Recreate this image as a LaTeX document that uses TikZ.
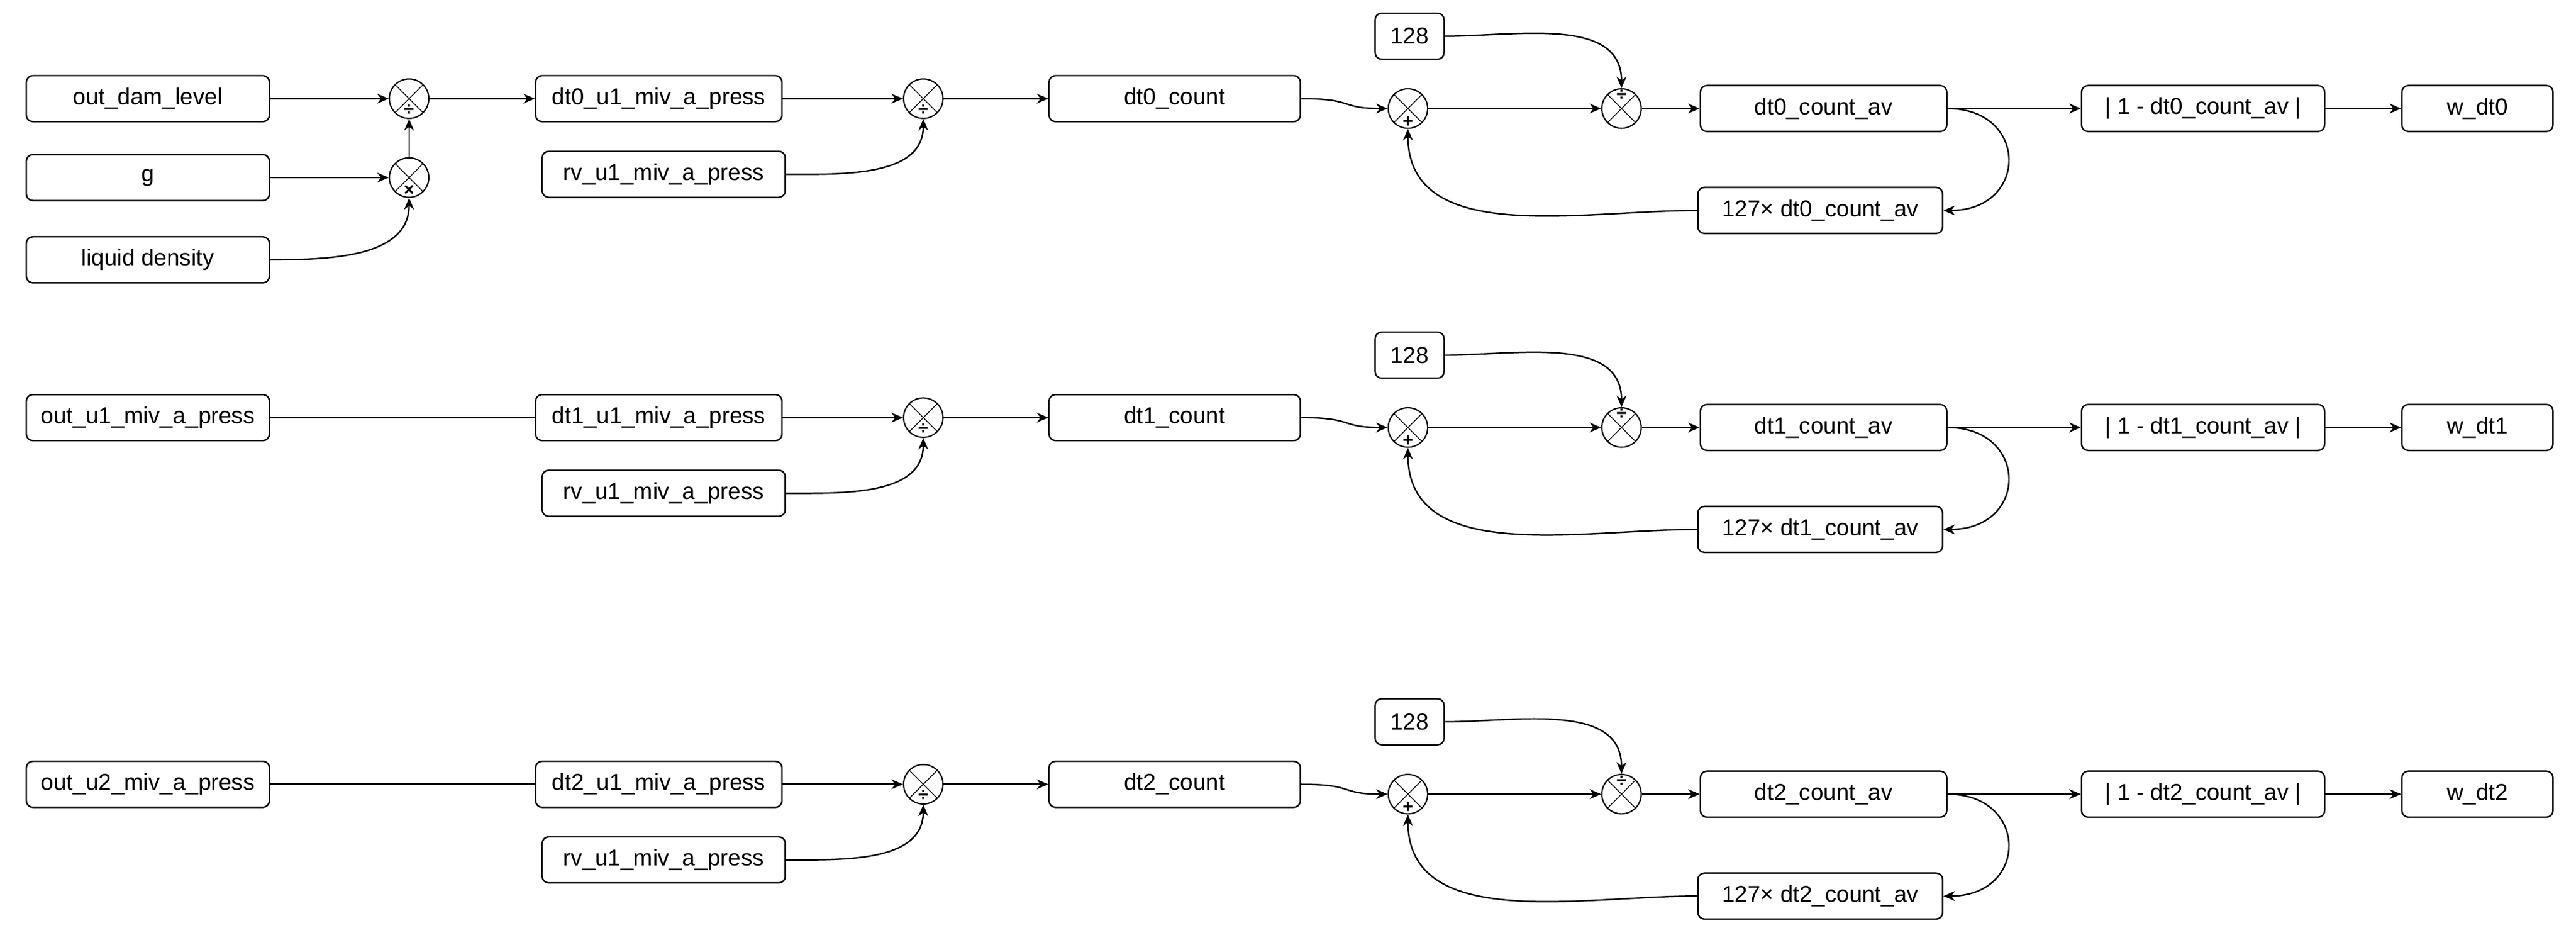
\documentclass[tikz,border=0pt]{standalone}
\usepackage{fontspec}
\setmainfont{Liberation Sans}
\usetikzlibrary{arrows.meta}
\begin{document}
\begin{tikzpicture}[x=1pt,y=-1pt,
  box/.style={draw,rounded corners=4pt,line width=0.9pt,minimum height=28pt,inner sep=0pt,font=\fontsize{14}{16}\selectfont},
  op/.style={draw,circle,minimum size=24pt,inner sep=0pt,line width=0.8pt,
    path picture={\draw[line width=0.5pt] (path picture bounding box.north west)--(path picture bounding box.south east)
      (path picture bounding box.north east)--(path picture bounding box.south west);}},
  arr/.style={-{Stealth[length=7pt,width=6pt]},line width=0.9pt},
  sgn/.style={font=\fontsize{11}{11}\selectfont\bfseries,inner sep=0pt}]
\useasboundingbox (0,0) rectangle (1568,571.4);
% row 0 inputs
\node[box,minimum width=148pt] (odl) at (90,60) {out\_dam\_level};
\node[box,minimum width=148pt] (g) at (90,108) {g};
\node[box,minimum width=148pt] (ld) at (90,158) {liquid density};
\node[op] (A) at (249,60) {}; \node[sgn] at (249,67) {÷};
\node[op] (B) at (249,108) {}; \node[sgn] at (249,116) {×};
\draw[arr] (odl) -- (A);
\draw[arr] (g) -- (B);
\draw[arr] (ld.east) to[out=0,in=-90] (B.south);
\draw[arr] (B) -- (A);
\node[box,minimum width=150pt] (p0) at (401,60) {dt0\_u1\_miv\_a\_press};
\draw[arr] (A) -- (p0);
% rows 1,2 inputs
\node[box,minimum width=148pt] (o1) at (90,254) {out\_u1\_miv\_a\_press};
\node[box,minimum width=150pt] (p1) at (401,254) {dt1\_u1\_miv\_a\_press};
\draw[line width=0.9pt] (o1) -- (p1);
\node[box,minimum width=148pt] (o2) at (90,477) {out\_u2\_miv\_a\_press};
\node[box,minimum width=150pt] (p2) at (401,477) {dt2\_u1\_miv\_a\_press};
\draw[line width=0.9pt] (o2) -- (p2);
\foreach \i/\d in {0/0,1/194,2/417}{
  \node[op] (C\i) at (562,60+\d) {}; \node[sgn] at (562,67+\d) {÷};
  \node[box,minimum width=148pt] (rv\i) at (404,106+\d) {rv\_u1\_miv\_a\_press};
  \node[box,minimum width=153pt] (c\i) at (715,60+\d) {dt\i\_count};
  \node[op] (S\i) at (857,66+\d) {}; \node[sgn] at (857,74+\d) {+};
  \node[box,minimum width=42pt] (k\i) at (858,22+\d) {128};
  \node[op] (D\i) at (987,66+\d) {}; \node[sgn] at (987,58+\d) {÷};
  \node[box,minimum width=150pt] (av\i) at (1110,66+\d) {dt\i\_count\_av};
  \node[box,minimum width=149pt] (m\i) at (1108,128+\d) {127× dt\i\_count\_av};
  \node[box,minimum width=148pt] (ab\i) at (1341,66+\d) {| 1 - dt\i\_count\_av |};
  \node[box,minimum width=92pt] (w\i) at (1508,66+\d) {w\_dt\i};
  \draw[arr] (p\i) -- (C\i);
  \draw[arr] (rv\i.east) to[out=0,in=-90] (C\i.south);
  \draw[arr] (C\i) -- (c\i);
  \draw[arr] (c\i.east) .. controls (825,60+\d) and (815,66+\d) .. (S\i.west);
  \draw[arr] (S\i) -- (D\i);
  \draw[arr] (k\i.east) to[out=0,in=90] (D\i.north);
  \draw[arr] (D\i) -- (av\i);
  \draw[arr] (av\i) -- (ab\i);
  \draw[arr] (av\i.east) .. controls (1235,66+\d) and (1235,128+\d) .. (m\i.east);
  \draw[arr] (m\i.west) to[out=180,in=-90] (S\i.south);
  \draw[arr] (ab\i) -- (w\i);
}
\end{tikzpicture}
\end{document}
